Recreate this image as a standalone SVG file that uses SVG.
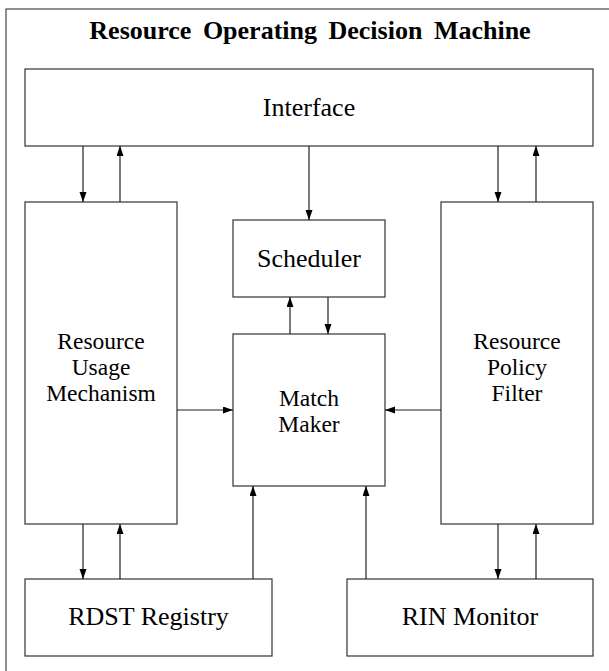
<svg xmlns="http://www.w3.org/2000/svg" width="609" height="671" viewBox="0 0 609 671">
<style>
.box{fill:#fff;stroke:#333;stroke-width:1.2}
.lbl{font-family:"Liberation Serif","Times New Roman",serif;font-size:26px;fill:#000;text-anchor:middle}
.ml{font-size:23.5px}
.ttl{font-family:"Liberation Serif","Times New Roman",serif;font-size:26px;font-weight:bold;fill:#000;text-anchor:middle;word-spacing:5px}
.c{stroke:#222;stroke-width:1.2;fill:none;marker-end:url(#ah)}
</style>
<defs>
<marker id="ah" markerUnits="userSpaceOnUse" markerWidth="10" markerHeight="8" refX="10" refY="3.5" orient="auto">
<path d="M0,0 L10,3.5 L0,7 z" fill="#000"/>
</marker>
</defs>
<rect x="6" y="9" width="660" height="720" fill="none" stroke="#444" stroke-width="1.2"/>
<text class="ttl" x="310" y="39">Resource Operating Decision Machine</text>
<g id="interface"><rect class="box" x="25" y="69" width="568" height="77"/><text class="lbl" x="309" y="116">Interface</text></g>
<g id="rum"><rect class="box" x="25" y="202" width="152" height="322"/><text class="lbl ml" x="101" y="349">Resource</text><text class="lbl ml" x="101" y="375">Usage</text><text class="lbl ml" x="101" y="401">Mechanism</text></g>
<g id="rpf"><rect class="box" x="441" y="202" width="152" height="322"/><text class="lbl ml" x="517" y="349">Resource</text><text class="lbl ml" x="517" y="375">Policy</text><text class="lbl ml" x="517" y="401">Filter</text></g>
<g id="scheduler"><rect class="box" x="233" y="220" width="152" height="77"/><text class="lbl" x="309" y="267">Scheduler</text></g>
<g id="matchmaker"><rect class="box" x="233" y="334" width="152" height="152"/><text class="lbl ml" x="309" y="406">Match</text><text class="lbl ml" x="309" y="432">Maker</text></g>
<g id="rdst"><rect class="box" x="25" y="579" width="247" height="77"/><text class="lbl" x="148.5" y="625">RDST Registry</text></g>
<g id="rin"><rect class="box" x="347" y="579" width="246" height="77"/><text class="lbl" x="470" y="625">RIN Monitor</text></g>
<g id="connectors">
<line class="c" x1="83" y1="146" x2="83" y2="202"/>
<line class="c" x1="120" y1="202" x2="120" y2="146"/>
<line class="c" x1="309" y1="146" x2="309" y2="220"/>
<line class="c" x1="290" y1="334" x2="290" y2="297"/>
<line class="c" x1="328" y1="297" x2="328" y2="334"/>
<line class="c" x1="498" y1="146" x2="498" y2="202"/>
<line class="c" x1="536" y1="202" x2="536" y2="146"/>
<line class="c" x1="177" y1="410" x2="233" y2="410"/>
<line class="c" x1="441" y1="410" x2="385" y2="410"/>
<line class="c" x1="83" y1="524" x2="83" y2="579"/>
<line class="c" x1="120" y1="579" x2="120" y2="524"/>
<line class="c" x1="253" y1="579" x2="253" y2="486"/>
<line class="c" x1="366" y1="579" x2="366" y2="486"/>
<line class="c" x1="498" y1="524" x2="498" y2="579"/>
<line class="c" x1="536" y1="579" x2="536" y2="524"/>
</g>
</svg>
